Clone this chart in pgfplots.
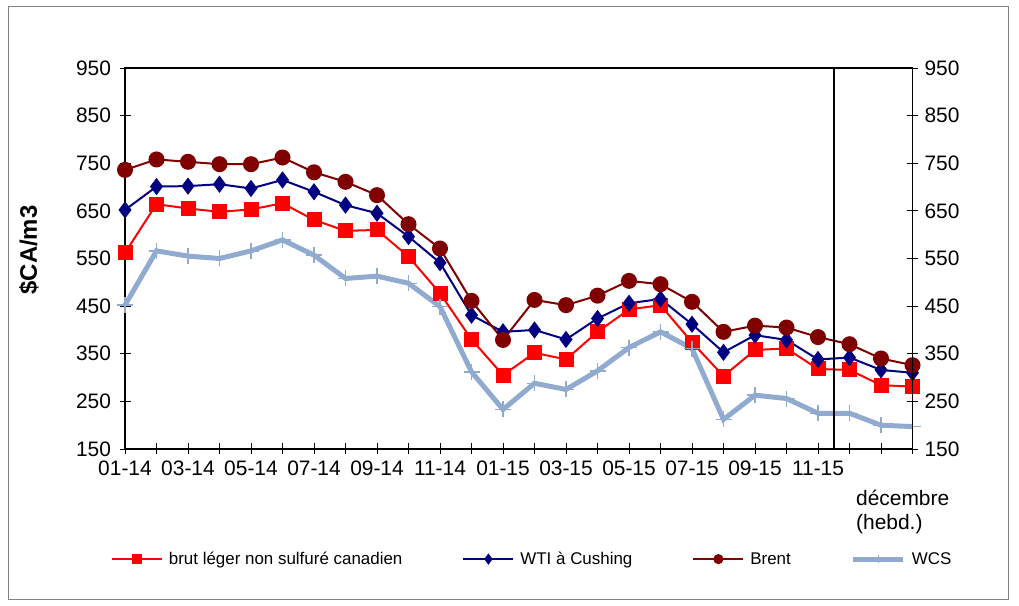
\documentclass[border=0pt]{standalone}
\usepackage{fontspec}
\setmainfont{Liberation Sans}
\usepackage{pgfplots}
\pgfplotsset{compat=1.18}
\usepackage{pgfplotstable}

\definecolor{brutred}{RGB}{255,0,0}
\definecolor{wtiblue}{RGB}{0,0,128}
\definecolor{brentred}{RGB}{128,0,0}
\definecolor{wcsblue}{RGB}{145,170,208}

\pgfplotstableread{
x brut wti brent wcs
0 562 652 736 452
1 664 701 758 566
2 655 702 753 555
3 648 706 748 550
4 653 697 748 566
5 666 715 762 589
6 631 690 731 557
7 608 662 711 508
8 610 645 683 513
9 554 596 622 498
10 477 541 571 449
11 380 431 461 312
12 305 396 379 233
13 352 400 463 288
14 338 380 452 275
15 396 424 472 314
16 443 456 503 363
17 452 465 496 396
18 374 412 459 361
19 303 353 396 212
20 358 389 409 263
21 361 379 405 256
22 318 338 385 225
23 316 342 370 225
24 284 316 340 200
25 281 310 326 197
}\datatable

\begin{document}
\begin{tikzpicture}[x=1bp,y=1bp]
\useasboundingbox (0,0) rectangle (1019,606);
\draw[draw={rgb,255:red,130;green,130;blue,130}, line width=1bp] (8,6.5) rectangle (1008,599);
\begin{axis}[
  at={(125bp,157bp)}, anchor=south west,
  scale only axis, width=787.5bp, height=381bp,
  xmin=0, xmax=25, ymin=150, ymax=950,
  clip=false,
  axis line style={black, line width=1.2bp},
  xtick={0,...,25},
  xticklabels={01-14,,03-14,,05-14,,07-14,,09-14,,11-14,,01-15,,03-15,,05-15,,07-15,,09-15,,11-15,,,},
  ytick={150,250,...,950},
  xtick pos=bottom, ytick pos=both,
  tick align=center,
  major tick length=11bp,
  tick style={black, line width=0.8bp},
  /pgf/number format/assume math mode=true,
  tick label style={font=\fontsize{21}{24}\selectfont},
  xticklabel style={yshift=-3bp},
  yticklabel style={xshift=-5bp},
  legend columns=4,
  legend style={at={(axis description cs:0.517,-0.289)}, anchor=center, draw=none, fill=none,
    font=\fontsize{17}{20}\selectfont,
    /tikz/every even column/.append style={column sep=58bp},
    /tikz/every odd column/.append style={column sep=4bp}},
  legend image code/.code={\draw[mark repeat=2,mark phase=2,#1,mark size=4bp] plot coordinates {(0bp,0bp) (25bp,0bp) (50bp,0bp)};},
]
\addplot[brutred, line width=2bp, mark=square*, mark size=6.5bp, mark options={solid}] table[x=x,y=brut] {\datatable};
\addlegendentry{brut léger non sulfuré canadien}
\addplot[wtiblue, line width=2bp, mark=diamond*, mark size=7bp, mark options={solid}] table[x=x,y=wti] {\datatable};
\addlegendentry{WTI à Cushing}
\addplot[brentred, line width=2bp, mark=*, mark size=7bp, mark options={solid}] table[x=x,y=brent] {\datatable};
\addlegendentry{Brent}
\addplot[wcsblue, line width=5bp, mark=+, mark size=8bp, mark options={solid, line width=1.5bp}] table[x=x,y=wcs] {\datatable};
\addlegendentry{WCS}
\draw[black, line width=2bp] (axis cs:22.5,150) -- (axis cs:22.5,950);
\end{axis}
\begin{axis}[
  at={(125bp,157bp)}, anchor=south west,
  scale only axis, width=787.5bp, height=381bp,
  xmin=0, xmax=25, ymin=150, ymax=950,
  hide x axis,
  axis y line*=right,
  axis line style={black, line width=1.2bp},
  ytick={150,250,...,950},
  tick align=center,
  major tick length=11bp,
  tick style={black, line width=0.8bp},
  /pgf/number format/assume math mode=true,
  tick label style={font=\fontsize{21}{24}\selectfont},
  yticklabel style={xshift=3bp},
]
\end{axis}
\node[anchor=north west, align=left, inner sep=0pt, font=\fontsize{21}{24}\selectfont] at (856,116) {décembre\\(hebd.)};
\node[rotate=90, font=\bfseries\fontsize{24}{28}\selectfont] at (29,356) {\$CA/m3};
\end{tikzpicture}
\end{document}
